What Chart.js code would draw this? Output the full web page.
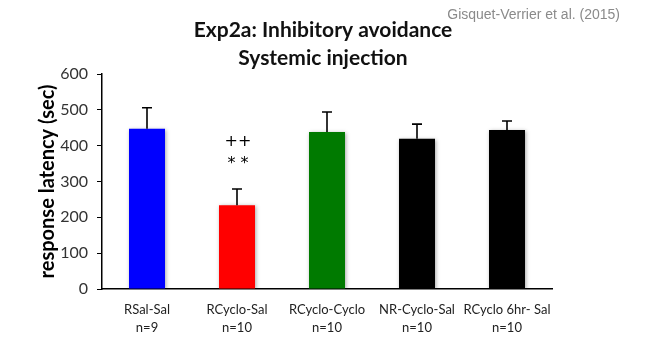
<!DOCTYPE html>
<html>
<head>
<meta charset="utf-8">
<script src="https://cdn.jsdelivr.net/npm/chart.js@4.4.1/dist/chart.umd.min.js"></script>
<style>
    html, body { margin: 0; padding: 0; background: #fff; }
    #wrap { width: 650px; height: 353px; }
</style>
</head>
<body>
<div id="wrap"><canvas id="latencyChart" width="650" height="353"></canvas></div>
<script>
const groups = [['RSal-Sal', 'n=9'], ['RCyclo-Sal', 'n=10'], ['RCyclo-Cyclo', 'n=10'], ['NR-Cyclo-Sal', 'n=10'], ['RCyclo 6hr- Sal', 'n=10']];
const latency = [447, 234, 438, 419, 444];
const sem = [59, 45, 56, 41, 25];
const barColors = ['#0000ff', '#ff0000', '#007a00', '#000000', '#000000'];
const marks = [[], ['++', '* *'], [], [], []];
const yTicks = [0, 100, 200, 300, 400, 500, 600];
const titleLines = ['Exp2a: Inhibitory avoidance', 'Systemic injection'];
const credit = 'Gisquet-Verrier et al. (2015)';

// titles, bar shadow, error bars and significance marks
const decorations = {
    id: 'decorations',
    beforeDatasetsDraw(chart) {
        const ctx = chart.ctx;
        ctx.save();
        ctx.shadowColor = 'rgba(0,0,0,0.35)';
        ctx.shadowBlur = 4;
        ctx.shadowOffsetX = 1;
        ctx.shadowOffsetY = 1;
    },
    afterDatasetsDraw(chart) {
        const ctx = chart.ctx;
        ctx.restore();
        const y = chart.scales.y;
        const meta = chart.getDatasetMeta(0);
        ctx.save();
        ctx.strokeStyle = '#000';
        ctx.lineWidth = 1.6;
        meta.data.forEach((bar, i) => {
            const top = y.getPixelForValue(latency[i] + sem[i]);
            ctx.beginPath();
            ctx.moveTo(bar.x, bar.y);
            ctx.lineTo(bar.x, top);
            ctx.moveTo(bar.x - 5, top);
            ctx.lineTo(bar.x + 5, top);
            ctx.stroke();

            ctx.fillStyle = '#000';
            ctx.font = '16px "DejaVu Sans"';
            ctx.textAlign = 'center';
            ctx.textBaseline = 'middle';
            marks[i].forEach((m, k) => {
                ctx.fillText(m, bar.x + 1, top - 47 + k * 22);
            });
        });
        ctx.restore();
    },
    afterDraw(chart) {
        const ctx = chart.ctx;
        ctx.save();
        ctx.textBaseline = 'middle';
        ctx.textAlign = 'right';
        ctx.fillStyle = '#8a8a8a';
        ctx.font = '14px "Liberation Sans Narrow", "Liberation Sans", sans-serif';
        ctx.fillText(credit, 620, 15);
        ctx.textAlign = 'center';
        ctx.fillStyle = '#111';
        ctx.font = 'bold 21px Lato';
        titleLines.forEach((t, k) => ctx.fillText(t, 323, 30 + k * 28));
        ctx.restore();
    }
};

const ctx = document.getElementById('latencyChart').getContext('2d');

const latencyChart = new Chart(ctx, {
    type: 'bar',
    data: {
        labels: groups,
        datasets: [{
            data: latency,
            backgroundColor: barColors,
            borderWidth: 0,
            barPercentage: 0.4,
            categoryPercentage: 1
        }]
    },
    options: {
        responsive: false,
        animation: false,
        layout: {
            padding: { left: 0, right: 98, top: 74, bottom: 0 }
        },
        plugins: {
            legend: { display: false },
            tooltip: { enabled: false }
        },
        scales: {
            x: {
                afterFit(scale) {
                    scale.height = 64;
                },
                grid: { display: false },
                border: { color: '#000', width: 1.5 },
                ticks: {
                    color: '#222',
                    font: { family: 'Lato', size: 13, lineHeight: 1.35 },
                    padding: 4,
                    maxRotation: 0
                }
            },
            y: {
                min: 0,
                max: 600,
                afterBuildTicks(scale) {
                    scale.ticks = yTicks.map(v => ({ value: v }));
                },
                afterFit(scale) {
                    scale.width = 102;
                },
                grid: {
                    drawOnChartArea: false,
                    color: '#000',
                    tickLength: 5
                },
                border: { color: '#000', width: 1.5 },
                ticks: {
                    color: '#333',
                    font: { family: 'Lato', size: 16 },
                    padding: 9
                },
                title: {
                    display: true,
                    text: 'response latency (sec)',
                    color: '#000',
                    font: { family: 'Lato', size: 20, weight: 'bold' },
                    padding: { top: 36, bottom: 0 }
                }
            }
        }
    },
    plugins: [decorations]
});
</script>
</body>
</html>
